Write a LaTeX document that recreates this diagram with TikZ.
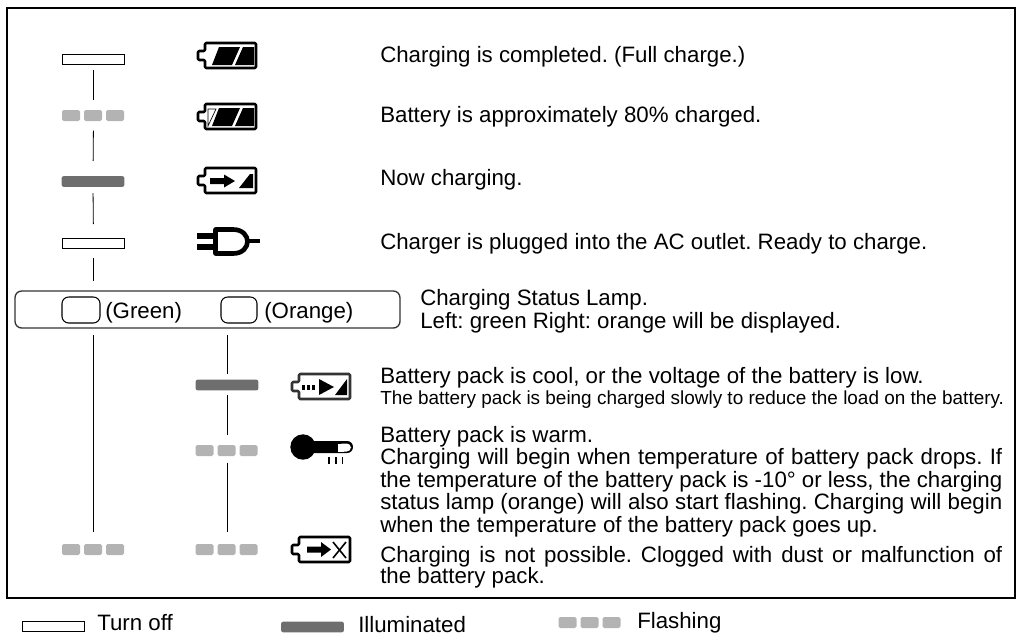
\documentclass[tikz,border=0pt]{standalone}
\usepackage{fontspec}
\setmainfont{Liberation Sans}
\definecolor{lampgray}{HTML}{B3B3B3}
\definecolor{lampdark}{HTML}{6E6E6E}
\definecolor{softblack}{HTML}{333333}
\tikzset{
  x=0.75pt,y=-0.75pt,
  lampoff/.style={draw=black,fill=white,line width=0.6pt,minimum width=47pt,minimum height=8pt,inner sep=0pt,outer sep=0pt},
  lampon/.style={fill=lampdark,rounded corners=1.5pt,minimum width=47pt,minimum height=8pt,inner sep=0pt,outer sep=0pt},
  lamphold/.style={minimum width=47pt,minimum height=8pt,inner sep=0pt,outer sep=0pt},
  seg/.style={fill=lampgray,rounded corners=1.2pt},
  link/.style={draw=black,line width=0.6pt},
  txt/.style={anchor=base west,inner sep=0pt,font=\fontsize{16.7}{18}\selectfont\frenchspacing},
  txts/.style={anchor=base west,inner sep=0pt,font=\fontsize{14.2}{16}\selectfont\frenchspacing},
  icon/.style={draw=black,line width=1.9pt,line join=round,fill=white},
  lampframe/.style={draw=softblack,line width=1pt,rounded corners=5pt,fill=white,inner sep=0pt,outer sep=0pt,minimum width=288.75pt,minimum height=27.75pt},
  window/.style={draw=black,line width=0.8pt,rounded corners=5pt}
}
\newcommand{\jline}[1]{\makebox[466.5pt][s]{#1}}
\newcommand{\flashlamp}[3]{%
  \node[lamphold] (#1) at (#2,#3) {};
  \fill[seg] (#2-31.5,#3-5.5) rectangle ++(18,11);
  \fill[seg] (#2-9.5,#3-5.5) rectangle ++(18,11);
  \fill[seg] (#2+12.5,#3-5.5) rectangle ++(18,11);
}
% battery outline: origin = left of nub, top of body
\newcommand{\batt}[3][black]{%
  \draw[icon,draw=#1,rounded corners=0.8pt] (#2+7,#3) -- (#2+58,#3) -- (#2+58,#3+25) -- (#2+7,#3+25) -- (#2+7,#3+17) -- (#2,#3+17) -- (#2,#3+8) -- (#2+7,#3+8) -- cycle;
}
\begin{document}
\begin{tikzpicture}
\useasboundingbox (0,0) rectangle (1020,637);
\draw[line width=1.5pt] (7,8) rectangle (1015,598);

% lamps, left column
\node[lampoff] (a1) at (93.5,59.5) {};
\flashlamp{a2}{93.5}{115.5}
\node[lampon] (a3) at (93,181.5) {};
\node[lampoff] (a4) at (93.5,243.5) {};
\flashlamp{a5}{93.5}{549.5}
% lamps, right column
\node[lampon] (b1) at (227,385) {};
\flashlamp{b2}{227}{450.5}
\flashlamp{b3}{227}{549.5}

% lamp bar
\node[lampframe] (bar) at (207.5,309.5) {};
\draw[window] (62,297) rectangle (100,323);
\draw[window] (221,297) rectangle (257,323);
\node[txt] (tg) at (105,318) {(Green)};
\node[txt] (to) at (264,318) {(Orange)};

% connectors
\draw[link,shorten <=3.75pt,shorten >=7.3pt] (a1.south) -- (a2.north);
\draw[link,shorten <=7.3pt,shorten >=11.4pt] (a2.south) -- (a3.north);
\draw[link,shorten <=4.7pt,shorten >=10.6pt] (a3.south) -- (a4.north);
\draw[link,shorten <=6.9pt,shorten >=7.5pt] (a4.south) -- (a4.south |- bar.north);
\draw[link,shorten <=5.25pt,shorten >=9pt] (a5.north |- bar.south) -- (a5.north);
\draw[link,shorten <=5.25pt,shorten >=4.3pt] (b1.north |- bar.south) -- (b1.north);
\draw[link,shorten <=3.5pt,shorten >=8pt] (b1.south) -- (b2.north);
\draw[link,shorten <=5pt,shorten >=9pt] (b2.south) -- (b3.north);

% icon 1: full
\batt{198}{43}
\fill (212,65) -- (219,47) -- (240,47) -- (232,65) -- cycle;
\fill (235,65) -- (243,47) -- (254,47) -- (254,65) -- cycle;
% icon 2: 80%
\batt{198}{104}
\fill (212,126) -- (219,108) -- (240,108) -- (232,126) -- cycle;
\fill (235,126) -- (243,108) -- (254,108) -- (254,126) -- cycle;
\draw[line width=0.5pt] (208,109) -- (216,109) -- (208,126) -- cycle;
% icon 3: charging
\batt{198}{168}
\fill (210,178) -- (224,178) -- (224,174.5) -- (235,181) -- (224,187.5) -- (224,184) -- (210,184) -- cycle;
\fill (250,174) -- (253,174) -- (253,188) -- (239,188) -- cycle;
% icon 4: plug
\draw[line width=3.5pt,line join=round] (215.5,229.5) -- (233,229.5) .. controls (243,229.5) and (247.5,236) .. (247.5,241.5) .. controls (247.5,247) and (243,253.5) .. (233,253.5) -- (215.5,253.5) -- cycle;
\draw[line width=3.7pt] (249,241) -- (260,241);
\draw[line width=4.5pt] (197,236) -- (214,236);
\draw[line width=4.5pt] (197,247) -- (214,247);
% icon 5: cool
\batt[softblack]{292}{374}
\fill (302,385) rectangle (305,390);
\fill (307,385) rectangle (310,390);
\fill (312,385) rectangle (315,390);
\fill (319,379) -- (334,387) -- (319,395) -- cycle;
\fill (347,379) -- (347,395) -- (335,395) -- cycle;
% icon 6: thermometer
\fill (303,447) circle (12.7);
\fill[rounded corners=4.4pt] (308,441) rectangle (353,453);
\fill (308,441) rectangle (330,453);
\fill[white,rounded corners=3.2pt] (338,443.5) -- (351,443.5) -- (351,451.5) -- (338,451.5) -- cycle;
\fill[white] (338,443.5) rectangle (344,451.5);
\draw[line width=1.3pt] (329,457) -- (329,464);
\draw[line width=1.3pt] (336,457) -- (336,464);
\draw[line width=1.3pt] (342.5,457) -- (342.5,464);
% icon 7: not possible
\batt{292}{537}
\fill (307,546.5) -- (321,546.5) -- (321,542) -- (331,549.5) -- (321,557) -- (321,552.5) -- (307,552.5) -- cycle;
\draw[line width=1.2pt] (333,542) -- (346,558);
\draw[line width=1.2pt] (346,542) -- (333,558);

% texts
\node[txt] (t1) at (380,62) {Charging is completed. (Full charge.)};
\node[txt] (t2) at (380,122) {Battery is approximately 80\% charged.};
\node[txt] (t3) at (380,185) {Now charging.};
\node[txt] (t4) at (380,249) {Charger is plugged into the AC outlet. Ready to charge.};
\node[txt] (t5) at (420,305) {Charging Status Lamp.};
\node[txt] (t6) at (420,328) {Left: green Right: orange will be displayed.};
\node[txt] (t7) at (380,383) {Battery pack is cool, or the voltage of the battery is low.};
\node[txts] (t8) at (380,404) {The battery pack is being charged slowly to reduce the load on the battery.};
\node[txt] (t9) at (380,442) {Battery pack is warm.};
\node[txt] (t10) at (380,464) {\jline{Charging will begin when temperature of battery pack drops. If}};
\node[txt] (t11) at (380,487) {\jline{the temperature of the battery pack is -10° or less, the charging}};
\node[txt] (t12) at (380,509) {\jline{status lamp (orange) will also start flashing. Charging will begin}};
\node[txt] (t13) at (380,532) {when the temperature of the battery pack goes up.};
\node[txt] (t14) at (380,562) {\jline{Charging is not possible. Clogged with dust or malfunction of}};
\node[txt] (t15) at (380,583) {the battery pack.};

% legend
\node[lampoff] (k1) at (53.5,626.5) {};
\node[txt] (k1t) at (97,630) {Turn off};
\node[lampon] (k2) at (312.5,627) {};
\node[txt] (k2t) at (358,632) {Illuminated};
\flashlamp{k3}{590}{622.5}
\node[txt] (k3t) at (637,628) {Flashing};
\end{tikzpicture}
\end{document}
